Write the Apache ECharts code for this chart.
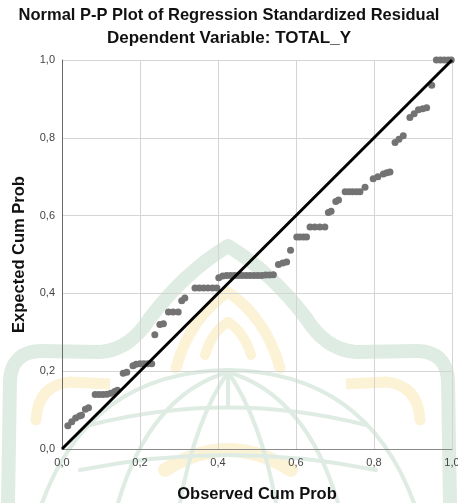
<!DOCTYPE html>
<html><head><meta charset="utf-8">
<script src="https://cdn.jsdelivr.net/npm/echarts@6/dist/echarts.min.js"></script>
<style>html,body{margin:0;padding:0;background:#fff}#c{width:458px;height:503px}</style>
</head><body><div id="c"></div>
<script>
const chartTitle = "Normal P-P Plot of Regression Standardized Residual";
const chartSubtitle = "Dependent Variable: TOTAL_Y";
const xAxisTitle = "Observed Cum Prob";
const yAxisTitle = "Expected Cum Prob";
const tickValues = [0, 0.2, 0.4, 0.6, 0.8, 1.0];
const observedCumProb = [
  0.015,0.025,0.035,0.045,0.050,0.060,0.068,
  0.085,0.095,0.105,0.115,0.125,0.135,0.142,
  0.157,0.166,
  0.182,0.190,0.200,0.210,0.220,0.230,
  0.238,
  0.251,0.260,
  0.273,0.285,0.298,
  0.307,0.315,
  0.341,0.352,0.363,0.374,0.386,0.397,
  0.402,0.412,0.422,0.432,0.442,0.452,0.462,0.472,0.482,0.492,0.502,0.512,0.522,0.532,0.542,
  0.555,0.566,0.576,
  0.586,
  0.602,0.610,0.619,0.627,
  0.636,0.648,0.661,0.674,
  0.683,0.690,
  0.702,0.709,
  0.726,0.736,0.745,0.755,0.764,
  0.777,
  0.798,0.810,0.824,0.833,0.841,
  0.854,0.864,0.875,
  0.892,0.903,0.914,0.925,0.935,
  0.948,
  0.960,0.970,0.980,0.990,0.998
];
const expectedCumProb = [
  0.060,0.070,0.080,0.085,0.087,0.102,0.106,
  0.140,0.140,0.140,0.141,0.143,0.148,0.151,
  0.195,0.197,
  0.214,0.218,0.219,0.219,0.219,0.219,
  0.294,
  0.320,0.322,
  0.352,0.352,0.352,
  0.381,0.388,
  0.414,0.414,0.414,0.414,0.414,0.414,
  0.440,0.445,0.446,0.446,0.446,0.446,0.446,0.446,0.446,0.446,0.446,0.446,0.447,0.447,0.448,
  0.474,0.478,0.481,
  0.511,
  0.545,0.545,0.545,0.545,
  0.571,0.571,0.571,0.571,
  0.608,0.611,
  0.636,0.640,
  0.661,0.661,0.661,0.661,0.661,
  0.673,
  0.695,0.700,0.707,0.710,0.712,
  0.788,0.796,0.805,
  0.852,0.862,0.872,0.875,0.877,
  0.935,
  1.000,1.000,1.000,1.000,1.000
];
const referenceLine = [[0, 0], [1, 1]];

const points = observedCumProb.map((x, i) => [x, expectedCumProb[i]]);
const fmt = v => v.toFixed(1).replace('.', ',');
const font = "'Liberation Sans', Arial, sans-serif";

// faint background watermark (decorative logo, approximated)
const wmGreen = '#dfece3';
const wmYellow = '#fcf2d6';
function qc(x1, y1, cx, cy, x2, y2, color, w) {
  return {type: 'bezierCurve', z: -10, silent: true,
    shape: {x1: x1, y1: y1, x2: x2, y2: y2, cpx1: cx, cpy1: cy},
    style: {fill: null, stroke: color, lineWidth: w, lineCap: 'round'}};
}
function pl(pts, color, w) {
  return {type: 'polyline', z: -10, silent: true, shape: {points: pts},
    style: {fill: null, stroke: color, lineWidth: w, lineJoin: 'round'}};
}
const watermark = [
  // outer green arch with wings
  pl([[8, 503], [10, 380]], wmGreen, 14),
  qc(10, 380, 12, 352, 40, 351, wmGreen, 14),
  pl([[40, 351], [100, 352]], wmGreen, 14),
  qc(100, 352, 130, 350, 150, 318, wmGreen, 14),
  qc(150, 318, 185, 272, 228, 246, wmGreen, 14),
  qc(228, 246, 271, 272, 306, 318, wmGreen, 14),
  qc(306, 318, 326, 350, 356, 352, wmGreen, 14),
  pl([[356, 352], [418, 351]], wmGreen, 14),
  qc(418, 351, 446, 352, 448, 380, wmGreen, 14),
  pl([[448, 380], [450, 503]], wmGreen, 14),
  // yellow inner arches and wings
  qc(36, 420, 38, 385, 70, 382, wmYellow, 11),
  pl([[70, 382], [110, 384]], wmYellow, 11),
  qc(420, 420, 418, 385, 386, 382, wmYellow, 11),
  pl([[386, 382], [346, 384]], wmYellow, 11),
  qc(176, 368, 190, 318, 228, 292, wmYellow, 11),
  qc(228, 292, 266, 318, 280, 368, wmYellow, 11),
  qc(205, 355, 212, 332, 228, 322, wmYellow, 10),
  qc(228, 322, 244, 332, 251, 355, wmYellow, 10),
  qc(165, 470, 228, 430, 291, 470, wmYellow, 14),
  // green globe lines
  qc(42, 503, 90, 372, 228, 370, wmGreen, 4),
  qc(228, 370, 366, 372, 414, 503, wmGreen, 4),
  qc(118, 503, 150, 395, 228, 372, wmGreen, 4),
  qc(228, 372, 306, 395, 338, 503, wmGreen, 4),
  qc(180, 503, 195, 420, 228, 372, wmGreen, 4),
  qc(228, 372, 261, 420, 276, 503, wmGreen, 4),
  pl([[228, 374], [228, 406]], wmGreen, 4),
  qc(90, 425, 228, 390, 366, 425, wmGreen, 4),
  qc(80, 470, 228, 440, 376, 470, wmGreen, 4)
];

const chart = echarts.init(document.getElementById('c'), null, {renderer: 'canvas'});
chart.setOption({
  animation: false,
  backgroundColor: '#ffffff',
  graphic: {elements: watermark},
  title: [
    {text: chartTitle, left: 'center', top: 2, textStyle: {fontFamily: font, fontSize: 16.5, fontWeight: 'bold', color: '#111'}},
    {text: chartSubtitle, left: 'center', top: 25, textStyle: {fontFamily: font, fontSize: 17, fontWeight: 'bold', color: '#111'}}
  ],
  grid: {left: 62, right: 6, top: 60, bottom: 54, containLabel: false, outerBoundsMode: 'none'},
  xAxis: {
    type: 'value', min: 0, max: 1, interval: 0.2,
    name: xAxisTitle, nameLocation: 'middle', nameGap: 37,
    nameTextStyle: {fontFamily: font, fontSize: 16.5, fontWeight: 'bold', color: '#111'},
    axisLine: {show: true, lineStyle: {color: '#8a8a8a', width: 1}},
    axisTick: {show: false},
    axisLabel: {formatter: fmt, fontFamily: font, fontSize: 11, color: '#444', margin: 8},
    splitLine: {show: true, lineStyle: {color: '#d4d4d4', width: 1}}
  },
  yAxis: {
    type: 'value', min: 0, max: 1, interval: 0.2,
    name: yAxisTitle, nameLocation: 'middle', nameGap: 34,
    nameTextStyle: {fontFamily: font, fontSize: 16.5, fontWeight: 'bold', color: '#111'},
    axisLine: {show: true, lineStyle: {color: '#6a6a6a', width: 1}},
    axisTick: {show: false},
    axisLabel: {formatter: fmt, fontFamily: font, fontSize: 11, color: '#444', margin: 7},
    splitLine: {show: true, lineStyle: {color: '#d4d4d4', width: 1}}
  },
  series: [
    {type: 'scatter', data: points, symbol: 'circle', symbolSize: 7,
     itemStyle: {color: '#737373', opacity: 1}, z: 2},
    {type: 'line', data: referenceLine, showSymbol: false, symbol: 'none',
     lineStyle: {color: '#000', width: 3}, z: 3, silent: true}
  ]
});
</script></body></html>
